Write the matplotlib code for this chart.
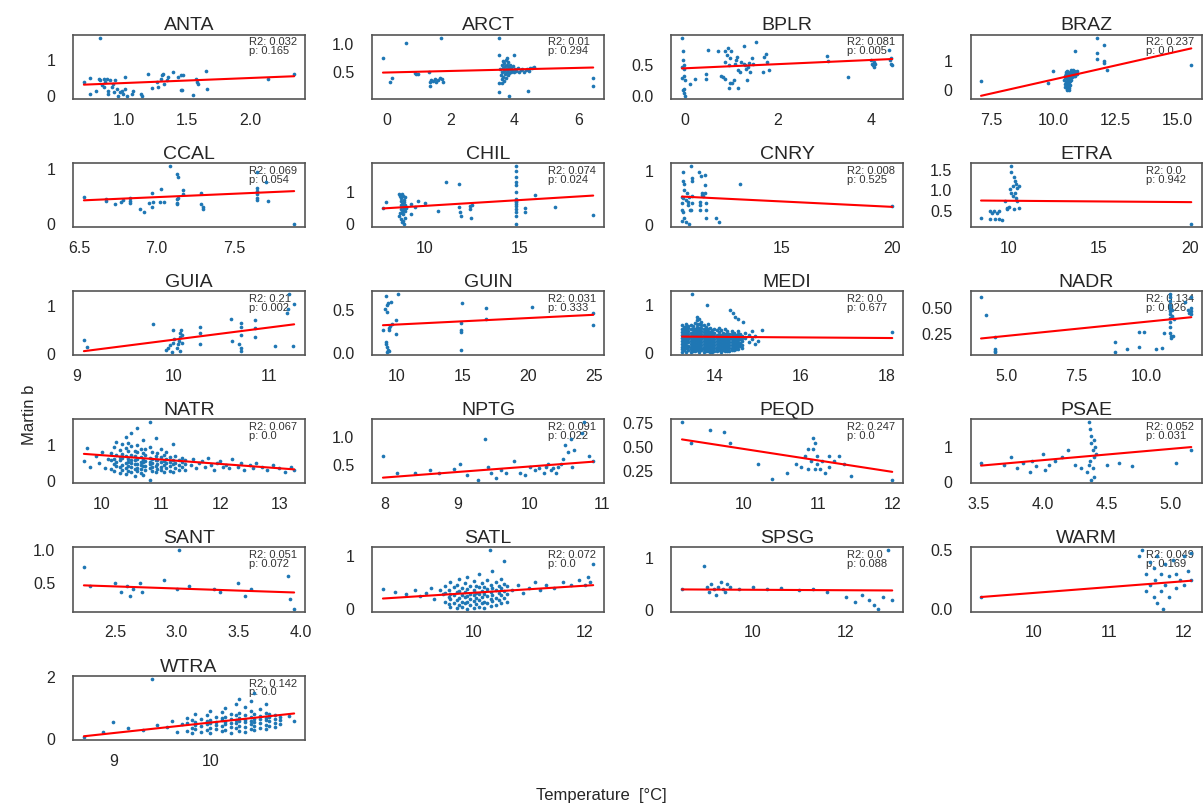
import numpy as np
import matplotlib.pyplot as plt
import seaborn as sns

sns.set_theme(style="white")
plt.rcParams["font.family"] = ["Liberation Sans", "DejaVu Sans"]

regions = ["ANTA", "ARCT", "BPLR", "BRAZ", "CCAL", "CHIL", "CNRY", "ETRA",
           "GUIA", "GUIN", "MEDI", "NADR", "NATR", "NPTG", "PEQD", "PSAE",
           "SANT", "SATL", "SPSG", "WARM", "WTRA"]
r2_vals = ["0.032", "0.01", "0.081", "0.237", "0.069", "0.074", "0.008", "0.0",
           "0.21", "0.031", "0.0", "0.134", "0.067", "0.091", "0.247", "0.052",
           "0.051", "0.072", "0.0", "0.049", "0.142"]
p_vals = ["0.165", "0.294", "0.005", "0.0", "0.054", "0.024", "0.525", "0.942",
          "0.002", "0.333", "0.677", "0.026", "0.0", "0.022", "0.0", "0.031",
          "0.072", "0.0", "0.088", "0.169", "0.0"]
# fitted regression lines (slope, intercept)
slopes = [0.14, 0.0136, 0.033, 0.194, 0.123, 0.036, -0.0199, -0.0034,
          0.2545, 0.0075, -0.0062, 0.0268, -0.12, 0.098, -0.12, 0.32,
          -0.0647, 0.0663, -0.0044, 0.05, 0.34]
intercepts = [0.215, 0.492, 0.444, -1.567, -0.372, 0.20, 0.733, 0.779,
              -2.256, 0.253, 0.422, 0.10, 1.914, -0.511, 1.68, -0.656,
              0.6056, -0.356, 0.437, -0.365, -2.858]

# ---- scatter data per region ----
anta_x = [0.81, 0.68, 0.73, 0.73, 0.78, 0.80, 0.81, 0.82, 0.84, 0.84,
          0.85, 0.86, 0.87, 0.87, 0.89, 0.90, 0.91, 0.92, 0.93, 0.94,
          0.95, 0.97, 0.98, 0.99, 1.01, 1.01, 1.02, 1.06, 1.07, 1.13,
          1.14, 1.19, 1.22, 1.26, 1.27, 1.29, 1.30, 1.31, 1.32, 1.34,
          1.35, 1.39, 1.43, 1.45, 1.45, 1.46, 1.47, 1.55, 1.57, 1.58,
          1.59, 1.65, 1.66, 2.14, 2.35]
anta_y = [1.62, 0.38, 0.50, 0.05, 0.14, 0.48, 0.43, 0.29, 0.48, 0.24,
          0.38, 0.48, 0.14, 0.05, 0.43, 0.24, 0.33, 0.10, 0.43, 0.19,
          0.0, 0.10, 0.14, 0.05, 0.19, 0.52, 0.0, 0.05, 0.14, 0.05,
          0.0, 0.62, 0.21, 0.38, 0.24, 0.48, 0.59, 0.62, 0.33, 0.43,
          0.52, 0.65, 0.52, 0.57, 0.17, 0.17, 0.59, 0.02, 0.48, 0.38,
          0.33, 0.69, 0.19, 0.48, 0.62]

arct_x = [-0.13, 0.10, 0.14, 0.59, 0.87, 0.92, 0.97, 1.32, 1.34, 1.36,
          1.39, 1.45, 1.50, 1.55, 1.60, 1.65, 1.71, 1.76, 1.68, 3.52,
          3.51, 3.52, 3.52, 3.83, 3.98, 4.42, 6.47, 6.47,
          3.55, 3.58, 3.60, 3.60, 3.62, 3.63, 3.65, 3.65, 3.66, 3.68,
          3.70, 3.70, 3.72, 3.72, 3.74, 3.75, 3.76, 3.78, 3.78, 3.80,
          3.80, 3.82, 3.84, 3.85, 3.86, 3.88, 3.90, 3.92, 3.95, 3.98,
          4.00, 4.05, 4.10, 4.15, 4.20, 4.25, 4.30, 4.35, 4.40, 4.45,
          4.50, 4.55, 4.60, 3.62, 3.68, 3.75]
arct_y = [0.75, 0.33, 0.39, 1.02, 0.48, 0.46, 0.46, 0.50, 0.33, 0.25,
          0.36, 0.35, 0.37, 0.33, 0.36, 0.39, 0.37, 0.33, 1.10, 1.11,
          0.80, 0.30, 0.14, 0.08, 0.81, 0.16, 0.39, 0.26,
          0.55, 0.45, 0.62, 0.38, 0.50, 0.70, 0.58, 0.42, 0.66, 0.52,
          0.60, 0.47, 0.72, 0.40, 0.55, 0.63, 0.50, 0.58, 0.45, 0.68,
          0.53, 0.60, 0.48, 0.56, 0.62, 0.50, 0.58, 0.53, 0.60, 0.50,
          0.55, 0.52, 0.57, 0.50, 0.53, 0.55, 0.50, 0.53, 0.56, 0.52,
          0.57, 0.58, 0.59, 0.30, 0.35, 0.75]

bplr_x = [-0.05, -0.03, -0.03, -0.05, -0.01, 0.0, -0.05, 0.0, 0.02, -0.03,
          0.0, 0.02, 0.0, 0.13, 0.22, 0.47, 0.47, 0.50, 0.72, 0.79,
          0.83, 0.86, 0.86, 0.88, 0.92, 0.94, 0.96, 0.98, 0.99, 0.96,
          0.98, 1.03, 1.06, 1.08, 1.10, 1.12, 1.14, 1.15, 1.19, 1.22,
          1.27, 1.28, 1.29, 1.32, 1.34, 1.37, 1.39, 1.41, 1.44, 1.46,
          1.53, 1.68, 1.71, 1.75, 1.78, 1.82, 3.06, 3.08, 3.51, 4.00,
          4.01, 4.03, 4.05, 4.07, 4.09, 4.39, 4.41, 4.43, 4.45, 4.43]
bplr_y = [0.93, 0.72, 0.57, 0.46, 0.43, 0.49, 0.29, 0.32, 0.26, 0.10,
          0.06, 0.01, 0.12, 0.19, 0.28, 0.35, 0.28, 0.74, 0.72, 0.32,
          0.30, 0.28, 0.71, 0.54, 0.66, 0.77, 0.49, 0.60, 0.71, 0.13,
          0.21, 0.21, 0.26, 0.52, 0.57, 0.63, 0.42, 0.13, 0.38, 0.54,
          0.80, 0.52, 0.49, 0.43, 0.26, 0.46, 0.53, 0.39, 0.60, 0.52,
          0.86, 0.39, 0.63, 0.67, 0.54, 0.42, 0.64, 0.56, 0.31, 0.57,
          0.52, 0.49, 0.54, 0.47, 0.52, 0.74, 0.57, 0.52, 0.49, 0.60]

braz_x = [7.10, 9.78, 9.98, 10.89, 11.78, 11.78, 11.78, 12.05, 12.05, 12.05,
          12.19, 15.57,
          10.45, 10.48, 10.50, 10.50, 10.52, 10.53, 10.55, 10.55, 10.56, 10.58,
          10.58, 10.60, 10.60, 10.62, 10.62, 10.63, 10.65, 10.65, 10.66, 10.68,
          10.68, 10.70, 10.70, 10.72, 10.72, 10.74, 10.75, 10.76, 10.78, 10.80,
          10.80, 10.82, 10.84, 10.85, 10.86, 10.88, 10.90, 10.92, 10.95, 10.98,
          10.52, 10.56, 10.60, 10.64, 10.48, 10.66, 10.70, 10.58, 10.54, 10.62]
braz_y = [0.32, 0.24, 0.68, 1.37, 1.83, 1.30, 1.07, 1.57, 1.00, 0.95,
          0.71, 0.88,
          0.35, 0.22, 0.45, 0.10, 0.30, 0.55, 0.18, 0.40, 0.05, 0.28,
          0.50, 0.12, 0.36, 0.60, 0.22, 0.02, 0.45, 0.30, 0.08, 0.55,
          0.38, 0.62, 0.20, 0.48, 0.70, 0.35, 0.58, 0.45, 0.66, 0.52,
          0.72, 0.60, 0.48, 0.68, 0.56, 0.62, 0.50, 0.64, 0.58, 0.66,
          0.62, 0.66, 0.26, 0.42, 0.50, 0.15, 0.32, 0.00, 0.58, 0.48]

ccal_x = [6.53, 6.67, 6.67, 6.73, 6.77, 6.78, 6.83, 6.83, 6.83, 6.89,
          6.92, 6.95, 6.97, 6.97, 6.98, 7.02, 7.03, 7.05, 7.09, 7.13,
          7.14, 7.13, 7.13, 7.13, 7.14, 7.17, 7.17, 7.29, 7.29, 7.30,
          7.30, 7.65, 7.65, 7.65, 7.65, 7.65, 7.65, 7.71, 7.72, 7.89]
ccal_y = [0.49, 0.46, 0.42, 0.36, 0.40, 0.44, 0.48, 0.42, 0.39, 0.28,
          0.21, 0.39, 0.31, 0.57, 0.40, 0.40, 0.64, 0.40, 1.06, 0.91,
          0.85, 0.45, 0.39, 0.36, 0.48, 0.62, 0.54, 0.57, 0.36, 0.31,
          0.28, 0.94, 0.66, 0.60, 0.54, 0.48, 0.44, 0.77, 0.42, 0.00]

chil_x = [7.81, 7.95, 9.30, 9.47, 9.65, 10.0, 9.30, 10.70, 11.14, 11.81,
          11.81, 11.88, 11.93, 12.37, 12.40, 12.46, 12.51, 15.26, 15.26, 15.79,
          16.84, 18.86,
          14.8, 14.8, 14.8, 14.8, 14.8, 14.8, 14.8, 14.8, 14.8, 14.8,
          14.8, 14.8, 14.8, 14.8, 14.8,
          8.68, 8.72, 8.75, 8.78, 8.80, 8.82, 8.85, 8.88, 8.90, 8.92,
          8.95, 8.98, 9.00, 8.70, 8.76, 8.84, 8.90, 8.96, 8.74, 8.86,
          8.80, 8.93, 8.68, 8.77, 8.86, 8.95, 9.02, 8.82]
chil_y = [0.48, 0.69, 0.62, 0.52, 0.72, 0.65, 0.31, 0.41, 1.29, 1.24,
          0.52, 0.38, 0.26, 0.57, 0.46, 0.18, 0.59, 0.48, 0.38, 0.90,
          0.52, 0.28,
          1.80, 1.65, 1.44, 1.31, 1.21, 0.98, 0.77, 0.67, 0.57, 0.46,
          0.36, 0.26, 0.0, 0.72, 0.62,
          0.93, 0.88, 0.80, 0.70, 0.93, 0.62, 0.55, 0.88, 0.48, 0.75,
          0.40, 0.60, 0.52, 0.35, 0.45, 0.30, 0.68, 0.20, 0.15, 0.10,
          0.05, 0.0, 0.25, 0.58, 0.42, 0.85, 0.50, 0.38]

cnry_x = [10.56, 10.56, 10.61, 10.61, 10.56, 10.52, 10.50, 10.56, 10.61, 10.52,
          10.67, 10.82, 10.71, 10.76, 10.79, 10.86, 10.91, 10.94, 10.94, 10.94,
          10.97, 10.91, 11.27, 11.36, 11.42, 11.42, 11.47, 11.52, 11.32, 11.32,
          11.32, 11.52, 11.52, 11.58, 11.58, 11.58, 12.03, 12.15, 13.14, 20.0,
          10.50, 10.67, 10.82]
cnry_y = [0.97, 0.81, 0.75, 0.65, 0.49, 0.40, 0.28, 0.24, 0.13, 0.07,
          0.05, 0.02, 0.59, 0.43, 0.37, 0.27, 1.09, 0.87, 0.81, 0.54,
          0.40, 0.27, 0.97, 0.91, 0.59, 0.56, 0.53, 0.59, 0.43, 0.37,
          0.27, 0.92, 0.73, 0.41, 0.27, 0.13, 0.13, 0.05, 0.75, 0.35,
          0.52, 0.46, 0.52]

etra_x = [8.48, 8.97, 8.97, 9.08, 9.21, 9.27, 9.34, 9.45, 9.45, 9.63,
          9.82, 9.89, 9.94, 10.04, 10.13, 10.13, 10.07, 10.13, 10.22, 10.31,
          10.37, 10.40, 10.44, 10.37, 10.40, 10.44, 10.31, 10.55, 10.55, 10.26,
          20.09]
etra_y = [0.32, 0.29, 0.48, 0.44, 0.48, 0.29, 0.44, 0.48, 0.29, 0.28,
          0.73, 0.57, 0.53, 0.59, 1.61, 1.46, 1.03, 0.94, 0.86, 1.32,
          1.23, 1.15, 1.07, 0.94, 0.82, 0.73, 0.54, 1.11, 0.57, 1.11,
          0.17]

guia_x = [9.07, 9.10, 9.79, 9.93, 9.95, 9.97, 9.99, 10.0, 10.0, 10.01,
          10.04, 10.05, 10.06, 10.07, 10.07, 10.08, 10.09, 10.09, 10.07, 10.28,
          10.28, 10.28, 10.60, 10.61, 10.69, 10.71, 10.71, 10.71, 10.71, 10.71,
          10.85, 10.85, 10.85, 11.06, 11.19, 11.20, 11.21, 11.26, 11.25]
guia_y = [0.28, 0.14, 0.61, 0.07, 0.12, 0.18, 0.03, 0.49, 0.23, 0.31,
          0.12, 0.20, 0.27, 0.34, 0.42, 0.49, 0.38, 0.23, 0.05, 0.56,
          0.42, 0.21, 0.71, 0.26, 0.21, 0.64, 0.56, 0.39, 0.12, 0.05,
          0.69, 0.54, 0.34, 0.15, 0.85, 0.93, 1.24, 1.04, 0.15]

guin_x = [9.19, 9.11, 8.99, 9.29, 9.29, 9.37, 9.44, 9.44, 9.49, 9.62,
          9.70, 9.19, 9.24, 9.29, 9.37, 9.44, 9.29, 10.13, 9.95, 10.0,
          15.01, 14.94, 14.94, 14.94, 14.94, 16.78, 16.78, 20.33, 24.94, 24.94]
guin_y = [0.66, 0.51, 0.26, 0.55, 0.47, 0.58, 0.29, 0.26, 0.31, 0.59,
          0.33, 0.13, 0.10, 0.07, 0.04, 0.02, 0.01, 0.68, 0.38, 0.22,
          0.58, 0.35, 0.26, 0.24, 0.04, 0.52, 0.39, 0.53, 0.46, 0.32]

# MEDI: dense cloud given as columns of values, plus scattered points
medi_cols = [13.25, 13.30, 13.35, 13.40, 13.45, 13.50, 13.55, 13.60, 13.65, 13.70,
             13.75, 13.80, 13.85, 13.90, 13.95, 14.00, 14.05, 14.10, 14.15, 14.20,
             14.25, 14.30, 14.35, 14.40, 14.45, 14.50, 14.55, 14.60, 14.65, 14.72,
             14.80, 14.88, 14.95, 15.02]
medi_col_y = [[0.02, 0.08, 0.12, 0.19, 0.25, 0.31, 0.38, 0.44, 0.50, 0.58],
              [0.06, 0.12, 0.18, 0.24, 0.31, 0.37, 0.44, 0.49, 0.55],
              [0.01, 0.10, 0.16, 0.22, 0.29, 0.35, 0.41, 0.47, 0.54, 0.60],
              [0.05, 0.11, 0.15, 0.22, 0.28, 0.34, 0.40, 0.46, 0.52, 0.57],
              [0.02, 0.07, 0.12, 0.18, 0.24, 0.30, 0.36, 0.42, 0.49, 0.58],
              [0.04, 0.08, 0.14, 0.20, 0.26, 0.32, 0.38, 0.44, 0.50, 0.56],
              [0.03, 0.09, 0.14, 0.21, 0.27, 0.33, 0.39, 0.45, 0.51, 0.62],
              [0.06, 0.12, 0.18, 0.24, 0.30, 0.36, 0.42, 0.48, 0.54, 0.61, 0.68, 0.75],
              [0.01, 0.07, 0.11, 0.17, 0.23, 0.29, 0.35, 0.41, 0.47, 0.53, 0.60, 0.72],
              [0.05, 0.10, 0.16, 0.22, 0.28, 0.34, 0.40, 0.46, 0.52, 0.58, 0.64],
              [0.02, 0.08, 0.13, 0.19, 0.25, 0.31, 0.37, 0.43, 0.49, 0.58],
              [0.04, 0.07, 0.13, 0.19, 0.25, 0.31, 0.37, 0.43, 0.49, 0.55],
              [0.03, 0.09, 0.14, 0.20, 0.26, 0.32, 0.38, 0.44, 0.50, 0.60],
              [0.02, 0.08, 0.14, 0.20, 0.26, 0.32, 0.38, 0.44, 0.53],
              [0.02, 0.06, 0.12, 0.18, 0.24, 0.30, 0.36, 0.42, 0.48],
              [0.03, 0.09, 0.17, 0.23, 0.29, 0.35, 0.41, 0.50],
              [0.03, 0.07, 0.13, 0.19, 0.25, 0.31, 0.37, 0.47],
              [0.05, 0.08, 0.14, 0.20, 0.26, 0.32, 0.38, 0.44, 0.52],
              [0.02, 0.08, 0.14, 0.20, 0.26, 0.32, 0.38, 0.48],
              [0.06, 0.12, 0.18, 0.24, 0.30, 0.36, 0.42],
              [0.03, 0.09, 0.15, 0.21, 0.27, 0.33, 0.39, 0.50],
              [0.04, 0.09, 0.15, 0.21, 0.27, 0.33, 0.39, 0.45],
              [0.04, 0.10, 0.16, 0.22, 0.28, 0.34, 0.40],
              [0.06, 0.10, 0.16, 0.22, 0.28, 0.34, 0.40, 0.46],
              [0.05, 0.12, 0.18, 0.24, 0.30, 0.36, 0.42],
              [0.08, 0.12, 0.19, 0.25, 0.31, 0.37],
              [0.07, 0.14, 0.20, 0.27, 0.33, 0.39, 0.45],
              [0.15, 0.21, 0.28, 0.34, 0.40],
              [0.10, 0.17, 0.24, 0.30, 0.36],
              [0.30, 0.42],
              [0.22, 0.38],
              [0.28, 0.45],
              [0.18, 0.35],
              [0.25]]
medi_extra_x = [13.48, 13.83, 14.37, 14.43, 14.48, 14.66, 14.54, 15.10, 18.12]
medi_extra_y = [1.24, 1.00, 0.91, 0.83, 0.76, 0.64, 0.71, 0.47, 0.44]

nadr_x = [4.10, 4.26, 4.61, 4.61, 4.61, 4.61, 8.88, 8.88, 9.29, 9.71,
          9.71, 9.92, 10.35, 10.55, 10.62, 10.83, 10.83, 10.83, 10.83, 10.83,
          10.83, 10.83, 10.83, 10.83, 10.83, 10.83, 10.86, 10.88, 10.91, 10.91,
          10.94, 10.97, 11.36, 11.47, 11.50, 11.57, 11.57, 11.59, 11.59]
nadr_y = [0.60, 0.43, 0.22, 0.11, 0.09, 0.08, 0.18, 0.08, 0.11, 0.27,
          0.13, 0.27, 0.11, 0.12, 0.26, 0.63, 0.60, 0.56, 0.53, 0.50,
          0.47, 0.44, 0.40, 0.37, 0.32, 0.26, 0.23, 0.21, 0.48, 0.42,
          0.23, 0.39, 0.55, 0.48, 0.45, 0.60, 0.50, 0.47, 0.44]

# NATR: dense cloud as columns, plus tail points
natr_cols = [10.15, 10.21, 10.24, 10.31, 10.35, 10.41, 10.44, 10.50, 10.56, 10.59,
             10.66, 10.70, 10.74, 10.81, 10.85, 10.91, 10.94, 11.00, 11.06, 11.09,
             11.16, 11.20, 11.24, 11.31, 11.35, 11.41]
natr_col_y = [[0.33, 0.57, 0.78],
              [0.28, 0.47, 0.62, 0.93],
              [0.41, 0.52, 0.71, 1.08],
              [0.22, 0.38, 0.58, 0.66, 0.86],
              [0.31, 0.44, 0.63, 0.74, 1.02],
              [0.19, 0.36, 0.49, 0.68, 0.91, 1.22],
              [0.27, 0.42, 0.53, 0.61, 0.82, 1.04],
              [0.24, 0.39, 0.51, 0.59, 0.73, 0.96, 1.33],
              [0.14, 0.34, 0.46, 0.57, 0.69, 0.84],
              [0.29, 0.37, 0.48, 0.62, 0.79, 0.99, 1.47],
              [0.23, 0.33, 0.44, 0.54, 0.67, 0.88],
              [0.18, 0.41, 0.52, 0.58, 0.76, 1.12],
              [0.32, 0.43, 0.56, 0.71, 0.87],
              [0.02, 0.36, 0.47, 0.53, 0.64, 0.94, 1.62],
              [0.28, 0.39, 0.51, 0.61, 0.81],
              [0.26, 0.43, 0.57, 0.69, 1.19],
              [0.34, 0.47, 0.59, 0.77],
              [0.31, 0.38, 0.52, 0.66, 0.89],
              [0.24, 0.44, 0.56, 0.72],
              [0.36, 0.49, 0.61, 0.79],
              [0.29, 0.41, 0.54, 0.67],
              [0.26, 0.46, 0.58, 1.01],
              [0.37, 0.51, 0.69],
              [0.31, 0.44, 0.57],
              [0.39, 0.52, 0.63],
              [0.32, 0.47, 0.59]]
natr_extra_x = [9.70, 9.75, 9.80, 9.90, 9.95, 10.00, 10.05, 10.10,
                11.50, 11.55, 11.60, 11.65, 11.70, 11.75, 11.80, 11.85, 11.90, 11.95,
                12.00, 12.05, 12.10, 12.15, 12.20, 12.30, 12.35, 12.40, 12.50, 12.55,
                12.60, 12.70, 12.80, 12.90, 13.00, 13.10, 13.20, 13.25]
natr_extra_y = [0.55, 0.90, 0.40, 0.70, 0.50, 0.80, 0.35, 0.60,
                0.45, 0.60, 0.35, 0.50, 0.55, 0.40, 0.65, 0.45, 0.30, 0.50,
                0.55, 0.40, 0.45, 0.35, 0.60, 0.40, 0.50, 0.30, 0.45, 0.35,
                0.50, 0.40, 0.30, 0.45, 0.35, 0.25, 0.40, 0.30]

nptg_x = [7.97, 8.16, 8.42, 8.62, 8.75, 8.95, 9.04, 9.14, 9.28, 9.38,
          9.43, 9.47, 9.54, 9.60, 9.67, 9.78, 9.87, 9.93, 10.0, 10.07,
          10.13, 10.20, 10.22, 10.26, 10.30, 10.33, 10.36, 10.39, 10.43, 10.46,
          10.49, 10.53, 10.57, 10.59, 10.62, 10.72, 10.75, 10.82, 10.88]
nptg_y = [0.66, 0.36, 0.36, 0.40, 0.36, 0.42, 0.52, 0.32, 0.22, 0.96,
          0.46, 0.36, 0.26, 0.40, 0.36, 0.56, 0.36, 0.32, 0.46, 0.40,
          0.44, 0.36, 0.46, 0.52, 0.40, 0.44, 0.36, 0.46, 0.52, 0.60,
          0.86, 0.72, 0.96, 0.46, 0.76, 1.06, 1.26, 0.66, 0.56]

peqd_x = [9.17, 9.29, 9.55, 9.74, 9.81, 10.19, 10.38, 10.58, 10.71, 10.77,
          10.83, 10.86, 10.90, 10.94, 10.96, 10.99, 10.99, 11.03, 11.06, 11.09,
          11.15, 11.22, 11.28, 11.35, 10.96, 10.94, 10.86, 11.15, 11.45, 12.0]
peqd_y = [0.76, 0.54, 0.68, 0.66, 0.54, 0.32, 0.17, 0.23, 0.32, 0.29,
          0.41, 0.27, 0.35, 0.48, 0.54, 0.41, 0.32, 0.27, 0.35, 0.23,
          0.29, 0.35, 0.41, 0.32, 0.27, 0.59, 0.48, 0.41, 0.20, 0.15]

psae_x = [3.52, 3.7, 3.75, 3.8, 3.85, 3.9, 3.92, 3.95, 4.0, 4.02,
          4.05, 4.1, 4.15, 4.2, 4.25, 4.3, 4.35, 4.36, 4.37, 4.38,
          4.38, 4.39, 4.4, 4.4, 4.41, 4.42, 4.36, 4.37, 4.39, 4.5,
          4.6, 4.7, 5.04, 5.16, 4.38, 4.40]
psae_y = [0.55, 0.5, 0.7, 0.4, 0.55, 0.3, 0.6, 0.45, 0.8, 0.35,
          0.5, 0.6, 0.7, 0.9, 0.5, 0.4, 0.3, 1.7, 1.5, 1.3,
          1.1, 0.9, 0.7, 1.2, 1.0, 0.8, 0.5, 0.6, 0.4, 0.5,
          0.55, 0.45, 0.55, 0.91, 0.05, 0.15]

sant_x = [2.25, 2.3, 2.5, 2.55, 2.6, 2.62, 2.65, 2.7, 2.72, 2.9,
          3.0, 3.02, 3.1, 3.3, 3.35, 3.5, 3.55, 3.6, 3.9, 3.92, 3.95]
sant_y = [0.75, 0.45, 0.5, 0.35, 0.45, 0.3, 0.4, 0.5, 0.35, 0.55,
          0.4, 1.0, 0.45, 0.4, 0.35, 0.5, 0.3, 0.4, 0.6, 0.25, 0.1]

# SATL: dense cloud as columns, plus scattered points
satl_cols = [9.50, 9.56, 9.59, 9.65, 9.71, 9.74, 9.80, 9.86, 9.89, 9.95,
             10.01, 10.04, 10.10, 10.16, 10.19, 10.25, 10.31, 10.34, 10.40, 10.46,
             10.49, 10.55, 10.61]
satl_col_y = [[0.14, 0.31, 0.44],
              [0.09, 0.23, 0.36],
              [0.05, 0.19, 0.28, 0.51],
              [0.12, 0.26, 0.41],
              [0.02, 0.17, 0.32, 0.46],
              [0.07, 0.21, 0.34, 0.56],
              [0.04, 0.14, 0.27, 0.39],
              [0.11, 0.22, 0.33, 0.49],
              [0.01, 0.13, 0.24, 0.37, 0.61],
              [0.08, 0.19, 0.29, 0.43],
              [0.03, 0.16, 0.26, 0.36, 0.52],
              [0.09, 0.21, 0.31, 0.44],
              [0.05, 0.17, 0.28, 0.41, 0.66],
              [0.12, 0.23, 0.34, 0.49],
              [0.03, 0.14, 0.29, 0.42],
              [0.11, 0.24, 0.37, 0.54],
              [0.06, 0.19, 0.33, 0.46],
              [0.16, 0.27, 0.39, 0.71],
              [0.08, 0.21, 0.36, 0.51],
              [0.17, 0.31, 0.43],
              [0.11, 0.26, 0.39, 0.56],
              [0.21, 0.34, 0.47],
              [0.14, 0.29, 0.44]]
satl_extra_x = [8.38, 8.60, 8.80, 8.95, 9.05, 9.15, 9.25, 9.30, 9.40, 9.45,
                10.70, 10.80, 10.90, 11.00, 11.10, 11.20, 11.30, 11.45, 11.60, 11.75,
                11.90, 12.00, 12.05, 12.10, 12.15, 10.30, 10.55]
satl_extra_y = [0.38, 0.32, 0.28, 0.35, 0.25, 0.30, 0.40, 0.20, 0.35, 0.28,
                0.35, 0.45, 0.30, 0.40, 0.50, 0.35, 0.45, 0.40, 0.50, 0.45,
                0.55, 0.45, 0.60, 0.50, 0.85, 1.10, 0.90]

spsg_x = [8.47, 8.95, 9.0, 9.05, 9.1, 9.15, 9.2, 9.25, 9.3, 9.35,
          9.4, 9.45, 9.5, 9.7, 10.0, 10.3, 10.6, 11.0, 11.3, 11.6,
          12.0, 12.2, 12.35, 12.5, 12.6, 12.7, 12.8, 12.9, 13.0]
spsg_y = [0.4, 0.85, 0.45, 0.35, 0.5, 0.4, 0.3, 0.45, 0.55, 0.4,
          0.35, 0.5, 0.45, 0.4, 0.45, 0.4, 0.42, 0.38, 0.4, 0.35,
          0.25, 0.15, 0.3, 0.2, 0.1, 0.03, 0.25, 1.15, 0.2]

warm_x = [9.3, 11.4, 11.45, 11.5, 11.5, 11.55, 11.55, 11.6, 11.6, 11.62,
          11.65, 11.65, 11.7, 11.7, 11.72, 11.75, 11.75, 11.8, 11.8, 11.85,
          11.9, 11.9, 11.95, 12.0, 12.0, 12.05, 12.1, 12.1]
warm_y = [0.1, 0.45, 0.5, 0.3, 0.15, 0.2, 0.4, 0.1, 0.35, 0.25,
          0.05, 0.45, 0.3, 0.15, 0.0, 0.2, 0.38, 0.28, 0.1, 0.42,
          0.3, 0.18, 0.25, 0.2, 0.45, 0.32, 0.25, 0.48]

# WTRA: dense cloud as columns, plus scattered points
wtra_cols = [9.75, 9.81, 9.84, 9.90, 9.96, 9.99, 10.05, 10.11, 10.14, 10.20,
             10.26, 10.29, 10.35, 10.41, 10.44, 10.50, 10.56, 10.59, 10.65, 10.71]
wtra_col_y = [[0.28, 0.52, 0.69],
              [0.21, 0.38, 0.61],
              [0.33, 0.47, 0.57, 0.81],
              [0.24, 0.43, 0.66],
              [0.31, 0.49, 0.58, 0.77],
              [0.19, 0.37, 0.54, 0.63, 0.92],
              [0.34, 0.46, 0.56, 0.72],
              [0.26, 0.42, 0.61, 0.68, 0.87],
              [0.29, 0.48, 0.57, 0.73, 1.02],
              [0.22, 0.39, 0.53, 0.64, 0.82],
              [0.36, 0.51, 0.62, 0.77, 1.12],
              [0.27, 0.44, 0.58, 0.67, 0.86, 1.31],
              [0.24, 0.41, 0.55, 0.63, 0.79, 1.03],
              [0.33, 0.49, 0.59, 0.72, 0.91, 1.22],
              [0.31, 0.43, 0.57, 0.66, 0.83, 1.48],
              [0.38, 0.53, 0.64, 0.74, 0.97],
              [0.34, 0.47, 0.61, 0.69, 0.86, 1.13],
              [0.44, 0.58, 0.71, 0.82],
              [0.39, 0.54, 0.66, 0.77],
              [0.48, 0.62, 0.73]]
wtra_extra_x = [8.70, 8.90, 9.00, 9.15, 9.30, 9.40, 9.45, 9.55, 9.60, 9.65,
                9.70, 10.80, 10.85]
wtra_extra_y = [0.08, 0.25, 0.55, 0.35, 0.30, 1.95, 0.45, 0.40, 0.60, 0.25,
                0.50, 0.75, 0.60]


def expand(cols, col_y, extra_x, extra_y):
    xs = [c for c, ys in zip(cols, col_y) for _ in ys] + extra_x
    ys = [v for vals in col_y for v in vals] + extra_y
    return xs, ys


medi_x, medi_y = expand(medi_cols, medi_col_y, medi_extra_x, medi_extra_y)
natr_x, natr_y = expand(natr_cols, natr_col_y, natr_extra_x, natr_extra_y)
satl_x, satl_y = expand(satl_cols, satl_col_y, satl_extra_x, satl_extra_y)
wtra_x, wtra_y = expand(wtra_cols, wtra_col_y, wtra_extra_x, wtra_extra_y)

points = [(anta_x, anta_y), (arct_x, arct_y), (bplr_x, bplr_y), (braz_x, braz_y),
          (ccal_x, ccal_y), (chil_x, chil_y), (cnry_x, cnry_y), (etra_x, etra_y),
          (guia_x, guia_y), (guin_x, guin_y), (medi_x, medi_y), (nadr_x, nadr_y),
          (natr_x, natr_y), (nptg_x, nptg_y), (peqd_x, peqd_y), (psae_x, psae_y),
          (sant_x, sant_y), (satl_x, satl_y), (spsg_x, spsg_y), (warm_x, warm_y),
          (wtra_x, wtra_y)]

fig, axes = plt.subplots(6, 4, figsize=(12.03, 8.05))
fig.subplots_adjust(left=0.061, right=0.999, top=0.957, bottom=0.081,
                    wspace=0.293, hspace=1.0)

for i, name in enumerate(regions):
    ax = axes.flat[i]
    x = np.array(points[i][0])
    y = np.array(points[i][1])
    ax.scatter(x, y, s=7, color="#1f77b4", linewidths=0, zorder=2)
    xs = np.array([x.min(), x.max()])
    ax.plot(xs, slopes[i] * xs + intercepts[i], color="red", lw=1.5, zorder=3)
    ax.set_title(name, fontsize=14, pad=3, color="#262626")
    ax.text(0.76, 0.955, f"R2: {r2_vals[i]}\np: {p_vals[i]}", transform=ax.transAxes,
            fontsize=8, va="top", ha="left", linespacing=0.85, color="#333333", zorder=1)
    ax.tick_params(axis="x", labelsize=11.5, pad=4)
    ax.tick_params(axis="y", labelsize=11.5, pad=7)
    for sp in ax.spines.values():
        sp.set_color("#555555")
        sp.set_linewidth(1.2)

for ax in axes.flat[len(regions):]:
    ax.axis("off")

fig.supxlabel("Temperature  [°C]", fontsize=12, y=0.003)
fig.supylabel("Martin b", fontsize=12, x=0.018, y=0.485)

fig.savefig("out.png", dpi=100)
